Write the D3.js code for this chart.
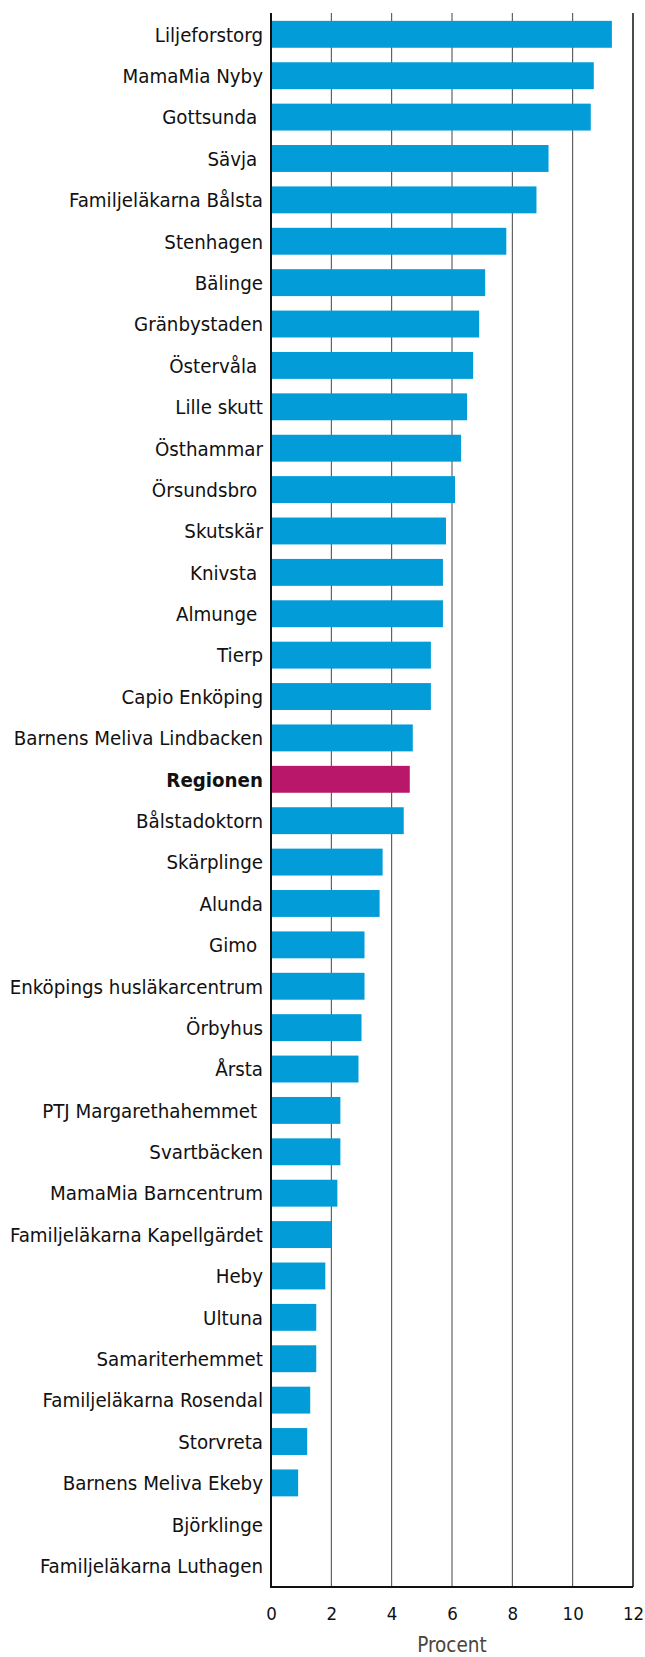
<!DOCTYPE html>
<html>
<head>
<meta charset="utf-8" />
<title>Procent per mottagning</title>
<style>
body {
    margin: 0;
    background: #fff;
}
#graph {
    width: 645px;
    height: 1657px;
}
text {
    font-family: "Source Sans Pro", "Liberation Sans Narrow", "DejaVu Sans Condensed", sans-serif;
}
.label {
    white-space: pre;
}
</style>
</head>

<body>
<div id="graph"></div>

<script src="https://cdnjs.cloudflare.com/ajax/libs/d3/7.8.5/d3.min.js"></script>
<script>
!(function(){
    "use strict"

    // mottagningar, uppifrån och ner
    var categories = [
        "Liljeforstorg", "MamaMia Nyby", "Gottsunda ", "Sävja ", "Familjeläkarna Bålsta",
        "Stenhagen", "Bälinge", "Gränbystaden", "Östervåla ", "Lille skutt",
        "Östhammar", "Örsundsbro ", "Skutskär", "Knivsta ", "Almunge ",
        "Tierp", "Capio Enköping", "Barnens Meliva Lindbacken", "Regionen", "Bålstadoktorn",
        "Skärplinge", "Alunda", "Gimo ", "Enköpings husläkarcentrum", "Örbyhus",
        "Årsta", "PTJ Margarethahemmet ", "Svartbäcken", "MamaMia Barncentrum", "Familjeläkarna Kapellgärdet",
        "Heby", "Ultuna", "Samariterhemmet", "Familjeläkarna Rosendal", "Storvreta",
        "Barnens Meliva Ekeby", "Björklinge", "Familjeläkarna Luthagen"
    ]
    var values = [
        11.3, 10.7, 10.6, 9.2, 8.8,
        7.8, 7.1, 6.9, 6.7, 6.5,
        6.3, 6.1, 5.8, 5.7, 5.7,
        5.3, 5.3, 4.7, 4.6, 4.4,
        3.7, 3.6, 3.1, 3.1, 3.0,
        2.9, 2.3, 2.3, 2.2, 2.0,
        1.8, 1.5, 1.5, 1.3, 1.2,
        0.9, 0, 0
    ]
    var highlight = "Regionen"
    var xTicks = [0, 2, 4, 6, 8, 10, 12]
    var xTitle = "Procent"

    var data = categories.map(function(c, i){ return {name: c, value: values[i]} })

    var width = 645, height = 1657
    var margin = {top:13, left:271, bottom:70, right:12}
    var chartWidth = width - margin.left - margin.right
    var chartHeight = height - margin.top - margin.bottom

    var svg = d3.select("#graph").append("svg")
        .attr("width", width).attr("height", height)

    var gridLayer = svg.append("g").attr("transform", "translate("+[margin.left, margin.top]+")")
    var chartLayer = svg.append("g").attr("transform", "translate("+[margin.left, margin.top]+")")
    var axisLayer = svg.append("g").attr("transform", "translate("+[margin.left, margin.top]+")")

    var xScale = d3.scaleLinear().domain([0, 12]).range([0, chartWidth])
    var yScale = d3.scaleBand().domain(categories).range([0, chartHeight])
        .paddingInner(0.35)
        .paddingOuter(0.19)

    // stödlinjer
    gridLayer.selectAll(".grid").data(xTicks.slice(1)).enter().append("line")
        .attr("x1", function(d){ return xScale(d) })
        .attr("x2", function(d){ return xScale(d) })
        .attr("y1", 0).attr("y2", chartHeight)
        .attr("stroke", function(d){ return d === 12 ? "#111" : "#444" })
        .attr("stroke-width", function(d){ return d === 12 ? 1.5 : 1 })

    chartLayer.selectAll(".bar").data(data).enter().append("rect")
        .attr("x", 0)
        .attr("y", function(d){ return yScale(d.name) })
        .attr("width", function(d){ return xScale(d.value) })
        .attr("height", yScale.bandwidth())
        .attr("fill", function(d){ return d.name === highlight ? "#b9186a" : "#029cd8" })

    // kategorinamn
    axisLayer.selectAll(".label").data(data).enter().append("text")
        .classed("label", true)
        .attr("x", -8)
        .attr("y", function(d){ return yScale(d.name) + yScale.bandwidth()/2 })
        .attr("dy", "0.36em")
        .attr("text-anchor", "end")
        .attr("font-size", 20.3)
        .attr("font-weight", function(d){ return d.name === highlight ? "bold" : "normal" })
        .attr("fill", "#111")
        .text(function(d){ return d.name })

    // axellinjer
    axisLayer.append("line")
        .attr("x1", 0).attr("x2", 0).attr("y1", 0).attr("y2", chartHeight + 1)
        .attr("stroke", "#111").attr("stroke-width", 2)
    axisLayer.append("line")
        .attr("x1", -1).attr("x2", chartWidth).attr("y1", chartHeight).attr("y2", chartHeight)
        .attr("stroke", "#111").attr("stroke-width", 2)

    var xAxis = d3.axisBottom(xScale).tickValues(xTicks).tickSize(0).tickPadding(20)
    var gx = axisLayer.append("g")
        .attr("transform", "translate("+[0, chartHeight]+")")
        .call(xAxis)
    gx.select(".domain").remove()
    gx.selectAll("text")
        .attr("font-size", 18.5)
        .attr("font-family", null)
        .attr("fill", "#111")

    axisLayer.append("text")
        .attr("x", chartWidth/2)
        .attr("y", chartHeight + 65)
        .attr("text-anchor", "middle")
        .attr("font-size", 20.5)
        .attr("fill", "#4b4639")
        .text(xTitle)

}());
</script>
</body>
</html>
